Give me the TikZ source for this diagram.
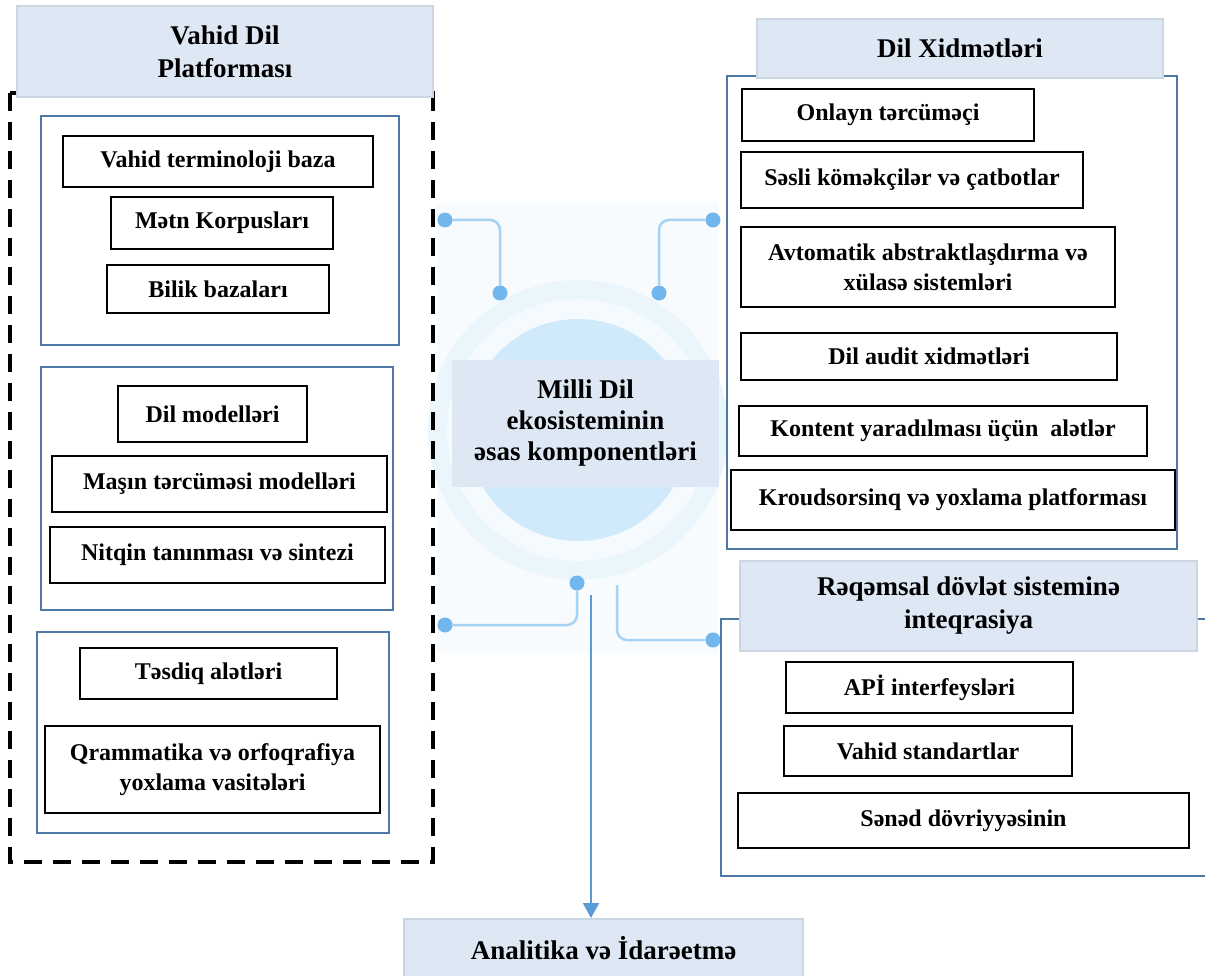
\documentclass[tikz,border=0pt]{standalone}
\usepackage{fontspec}
\setmainfont{Liberation Serif}
\usetikzlibrary{arrows.meta}
\definecolor{grpblue}{HTML}{4E79A7}
\definecolor{hdrfill}{HTML}{DDE8F4}
\definecolor{hdrline}{HTML}{CCD6E2}
\definecolor{wireblue}{HTML}{A6D3F3}
\definecolor{dotblue}{HTML}{72B6EE}
\definecolor{arrowblue}{HTML}{5B9BD5}
\definecolor{haloA}{HTML}{EAF6FC}
\definecolor{haloB}{HTML}{F4FAFD}
\definecolor{disc}{HTML}{D0EAFB}
\definecolor{glow}{HTML}{F8FBFD}
\begin{document}
\begin{tikzpicture}[x=1pt,y=-1pt,
    item/.style={draw=black,line width=2pt,fill=white,inner sep=0pt,align=center,
      font=\bfseries\fontsize{24}{30}\selectfont},
    grp/.style={draw=grpblue,line width=2pt,inner sep=0pt},
    hdr/.style={draw=hdrline,line width=2pt,fill=hdrfill,inner sep=0pt,align=center,
      font=\bfseries\fontsize{27}{33}\selectfont},
    dot/.style={circle,fill=dotblue,inner sep=0pt,minimum size=15pt},
    wire/.style={draw=wireblue,line width=2.5pt,rounded corners=10pt}]
  \useasboundingbox (0,0) rectangle (1205,976);

  % centre emblem
  \fill[glow] (437,203) rectangle (718,653);
  \fill[haloA] (578,430) circle (150pt);
  \fill[haloB] (578,430) circle (131pt);
  \fill[disc] (578,430) circle (111pt);
  \node[dot] (tl1) at (445,220) {};
  \node[dot] (tl2) at (500,293) {};
  \node[dot] (tr1) at (713,220) {};
  \node[dot] (tr2) at (659,293) {};
  \node[dot] (bl1) at (577,583) {};
  \node[dot] (bl2) at (445,625) {};
  \coordinate (br1) at (617,585);
  \node[dot] (br2) at (713,640) {};
  \draw[wire] (tl1) -| (tl2);
  \draw[wire] (tr1) -| (tr2);
  \draw[wire] (bl1) |- (bl2);
  \draw[wire] (br1) |- (br2);
  \node[fill=hdrfill,minimum width=267pt,minimum height=127pt,align=center,
    font=\bfseries\fontsize{27}{31}\selectfont] (core) at (585.5,423.5)
    {Milli Dil\\ekosisteminin\\əsas komponentləri};

  % left block
  \draw[line width=4pt,dash pattern=on 18pt off 11pt] (10,93) rectangle (433,862);
  \node[hdr,minimum width=416pt,minimum height=91pt] (platf) at (225,51.5) {Vahid Dil\\Platforması};
  \node[grp,minimum width=358pt,minimum height=229pt] (grpA) at (220,230.5) {};
  \node[item,minimum width=310pt,minimum height=51pt] (term) at (218,161.5) {Vahid terminoloji baza};
  \node[item,minimum width=222pt,minimum height=52pt] (korp) at (222,223) {Mətn Korpusları};
  \node[item,minimum width=222pt,minimum height=48pt] (bilik) at (218,289) {Bilik bazaları};
  \node[grp,minimum width=352pt,minimum height=243pt] (grpB) at (217,488.5) {};
  \node[item,minimum width=189pt,minimum height=56pt] (dilm) at (212.5,414) {Dil modelləri};
  \node[item,minimum width=335pt,minimum height=56pt] (masin) at (219.5,484) {Maşın tərcüməsi modelləri};
  \node[item,minimum width=335pt,minimum height=56pt] (nitq) at (217.5,555) {Nitqin tanınması və sintezi};
  \node[grp,minimum width=352pt,minimum height=201pt] (grpC) at (213,732.5) {};
  \node[item,minimum width=257pt,minimum height=51pt] (tesdiq) at (208.5,673.5) {Təsdiq alətləri};
  \node[item,minimum width=335pt,minimum height=87pt] (qram) at (212.5,769.5) {Qrammatika və orfoqrafiya\\yoxlama vasitələri};

  % right block: services
  \node[grp,minimum width=450pt,minimum height=473pt] (grpD) at (952,312.5) {};
  \node[hdr,minimum width=406pt,minimum height=59pt] (xidm) at (960,48.5) {Dil Xidmətləri};
  \node[item,minimum width=292pt,minimum height=52pt] (onl) at (888,115) {Onlayn tərcüməçi};
  \node[item,minimum width=342pt,minimum height=56pt] (sesli) at (912,180) {Səsli köməkçilər və çatbotlar};
  \node[item,minimum width=374pt,minimum height=80pt] (avto) at (928,267) {Avtomatik abstraktlaşdırma və\\xülasə sistemləri};
  \node[item,minimum width=376pt,minimum height=47pt] (audit) at (929,356.5) {Dil audit xidmətləri};
  \node[item,minimum width=408pt,minimum height=50pt] (kont) at (943,431) {Kontent yaradılması üçün\ \ alətlər};
  \node[item,minimum width=444pt,minimum height=60pt] (kroud) at (953,500) {Kroudsorsinq və yoxlama platforması};

  % right block: integration
  \node[grp,minimum width=494pt,minimum height=257pt] (grpE) at (968,747.5) {};
  \node[hdr,minimum width=457pt,minimum height=90pt] (inteq) at (968.5,606) {Rəqəmsal dövlət sisteminə\\inteqrasiya};
  \node[item,minimum width=287pt,minimum height=51pt] (api) at (929.5,687.5) {APİ interfeysləri};
  \node[item,minimum width=288pt,minimum height=50pt] (stand) at (928,751) {Vahid standartlar};
  \node[item,minimum width=451pt,minimum height=55pt] (sened) at (963.5,820.5) {Sənəd dövriyyəsinin};

  % bottom
  \node[hdr,minimum width=399pt,minimum height=58pt] (anal) at (603.5,948) {Analitika və İdarəetmə};
  \coordinate (arr) at (591,595);
  \draw[arrowblue,line width=2pt,-{Triangle[length=15pt,width=16pt]}] (arr) -- (arr |- anal.north);
\end{tikzpicture}
\end{document}
